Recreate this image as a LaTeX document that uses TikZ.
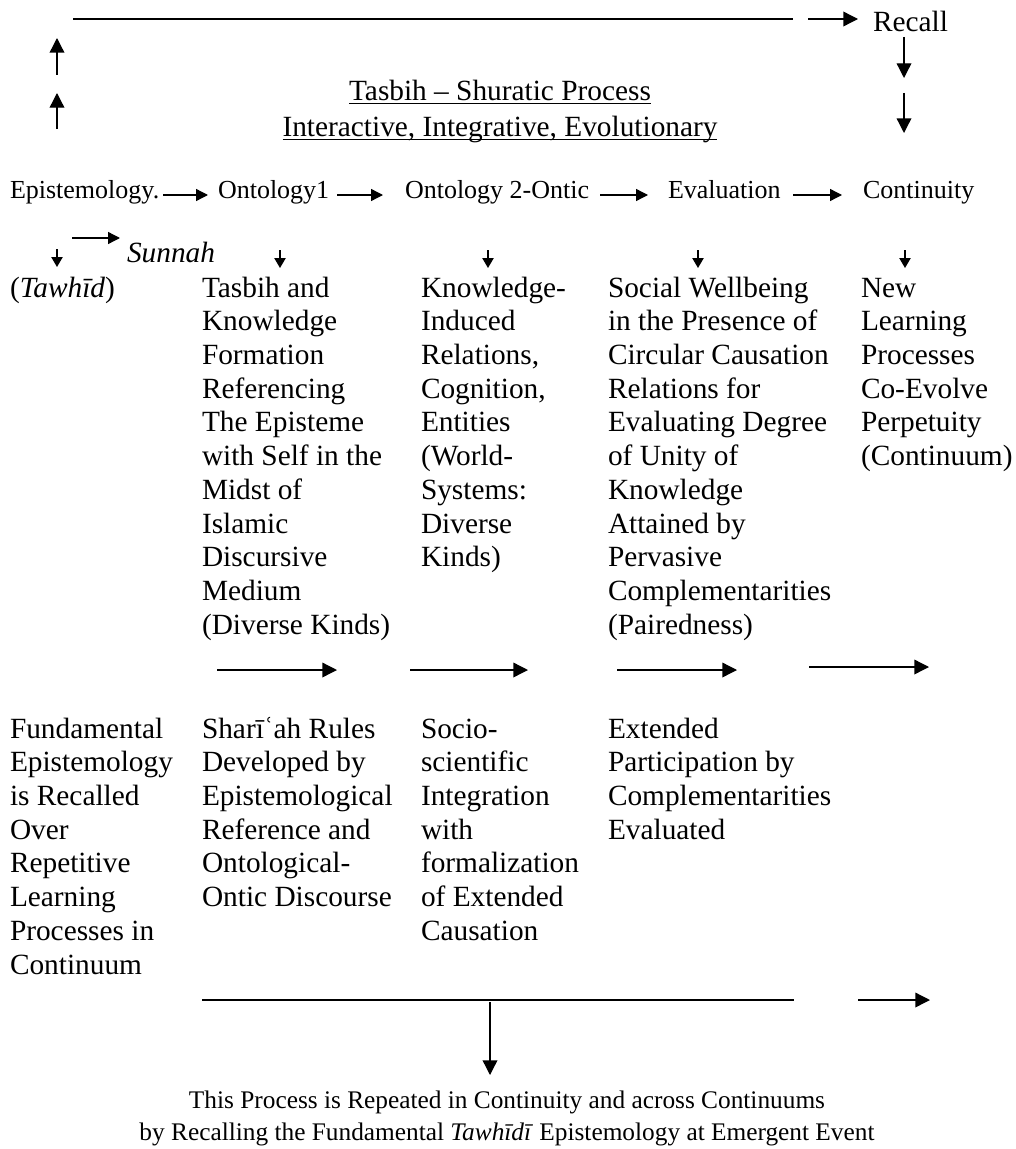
\documentclass[tikz,border=0pt]{standalone}
\usepackage{fontspec}
\setmainfont{Liberation Serif}
\usetikzlibrary{arrows.meta}
% top-aligned stack of left-aligned lines: the node's base is the first line
\newcommand{\colstack}[1]{\begin{tabular}[t]{@{}l@{}}#1\end{tabular}}

\begin{document}
\begin{tikzpicture}[x=0.75pt,y=-0.75pt,
  txt/.style={inner sep=0pt, outer sep=0pt, anchor=base west, font=\fontsize{22}{25.3}\selectfont},
  lbl/.style={inner sep=0pt, outer sep=0pt, anchor=base west, font=\fontsize{19.5}{22.5}\selectfont},
  foot/.style={inner sep=0pt, outer sep=0pt, anchor=base, font=\fontsize{19}{22}\selectfont},
  link/.style={line width=1pt},
  ulink/.style={line width=0.8pt},
  bigarrow/.style={link, -{Triangle[length=11pt,width=11pt]}},
  midarrow/.style={link, -{Triangle[length=9pt,width=9pt]}},
  smallarrow/.style={link, -{Triangle[length=7.5pt,width=8.5pt]}},
]
\path[use as bounding box] (0,0) rectangle (1015,1149);

% ---- feedback loop at the top ----
\node[txt] (recall) at (873,32) {Recall};
\coordinate (loopL) at (73,19);
\coordinate (loopR) at (793,19);
\coordinate (recA) at (808,19);
\coordinate (recB) at (858,19);
\draw[link] (loopL) -- (loopR);
\draw[bigarrow] (recA) -- (recB);

\coordinate (upA1) at (57,75);  \coordinate (upA2) at (57,38);
\coordinate (upB1) at (57,129); \coordinate (upB2) at (57,93);
\draw[bigarrow] (upA1) -- (upA2);
\draw[bigarrow] (upB1) -- (upB2);

\coordinate (dnA1) at (904,37); \coordinate (dnA2) at (904,78);
\coordinate (dnB1) at (904,93); \coordinate (dnB2) at (904,133);
\draw[bigarrow] (dnA1) -- (dnA2);
\draw[bigarrow] (dnB1) -- (dnB2);

% ---- title ----
\node[txt, anchor=base] (title1) at (500,100) {Tasbih – Shuratic Process};
\node[txt, anchor=base] (title2) at (500,136) {Interactive, Integrative, Evolutionary};
\draw[ulink] ([yshift=-2.6pt]title1.base west) -- ([yshift=-2.6pt]title1.base east);
\draw[ulink] ([yshift=-2.6pt]title2.base west) -- ([yshift=-2.6pt]title2.base east);

% ---- stage headings ----
\node[lbl] (epi)  at (10,198)  {Epistemology.};
\node[lbl] (ont1) at (218,198) {Ontology1};
\node[lbl] (ont2) at (405,198) {Ontology 2-Ontic};
\node[lbl] (eval) at (668,198) {Evaluation};
\node[lbl] (cont) at (863,198) {Continuity};

\coordinate (h1a) at (163,195); \coordinate (h1b) at (208,195);
\coordinate (h2a) at (337,195); \coordinate (h2b) at (383,195);
\coordinate (h3a) at (600,195); \coordinate (h3b) at (648,195);
\coordinate (h4a) at (793,195); \coordinate (h4b) at (842,195);
\draw[midarrow] (h1a) -- (h1b);
\draw[midarrow] (h2a) -- (h2b);
\draw[midarrow] (h3a) -- (h3b);
\draw[midarrow] (h4a) -- (h4b);

% ---- descent to the stage contents ----
\node[txt, font=\fontsize{22}{25.3}\selectfont\itshape] (sunnah) at (127,262) {Sunnah};
\coordinate (sA) at (72,238); \coordinate (sB) at (120,238);
\draw[midarrow] (sA) -- (sB);

\coordinate (d0a) at (57,249);  \coordinate (d0b) at (57,267);
\coordinate (d1a) at (280,250); \coordinate (d1b) at (280,268);
\coordinate (d2a) at (488,250); \coordinate (d2b) at (488,268);
\coordinate (d3a) at (698,250); \coordinate (d3b) at (698,268);
\coordinate (d4a) at (905,250); \coordinate (d4b) at (905,268);
\foreach \p in {0,...,4} {\draw[smallarrow] (d\p a) -- (d\p b);}

% ---- stage contents ----
\node[txt] (tawhid) at (10,297) {(\textit{Tawhīd})};
\node[txt] (c1) at (202,297) {\colstack{Tasbih and\\Knowledge\\Formation\\Referencing\\The Episteme\\with Self in the\\Midst of\\Islamic\\Discursive\\Medium\\(Diverse Kinds)}};
\node[txt] (c2) at (421,297) {\colstack{Knowledge-\\Induced\\Relations,\\Cognition,\\Entities\\(World-\\Systems:\\Diverse\\Kinds)}};
\node[txt] (c3) at (608,297) {\colstack{Social Wellbeing\\in the Presence of\\Circular Causation\\Relations for\\Evaluating Degree\\of Unity of\\Knowledge\\Attained by\\Pervasive\\Complementarities\\(Pairedness)}};
\node[txt] (c4) at (861,297) {\colstack{New\\Learning\\Processes\\Co-Evolve\\Perpetuity\\(Continuum)}};

% ---- transition arrows ----
\coordinate (m1a) at (217,670); \coordinate (m1b) at (337,670);
\coordinate (m2a) at (410,670); \coordinate (m2b) at (528,670);
\coordinate (m3a) at (617,670); \coordinate (m3b) at (737,670);
\coordinate (m4a) at (809,667); \coordinate (m4b) at (929,667);
\draw[bigarrow] (m1a) -- (m1b);
\draw[bigarrow] (m2a) -- (m2b);
\draw[bigarrow] (m3a) -- (m3b);
\draw[bigarrow] (m4a) -- (m4b);

% ---- outcomes ----
\node[txt] (b0) at (10,738) {\colstack{Fundamental\\Epistemology\\is Recalled\\Over\\Repetitive\\Learning\\Processes in\\Continuum}};
\node[txt] (b1) at (202,738) {\colstack{Sharīʿah Rules\\Developed by\\Epistemological\\Reference and\\Ontological-\\Ontic Discourse}};
\node[txt] (b2) at (421,738) {\colstack{Socio-\\scientific\\Integration\\with\\formalization\\of Extended\\Causation}};
\node[txt] (b3) at (608,738) {\colstack{Extended\\Participation by\\Complementarities\\Evaluated}};

% ---- repetition ----
\coordinate (bl) at (202,1000); \coordinate (br) at (794,1000);
\draw[link] (bl) -- (br);
\coordinate (rA) at (858,1000); \coordinate (rB) at (930,1000);
\draw[bigarrow] (rA) -- (rB);

\node[foot] (rep1) at (507,1108) {This Process is Repeated in Continuity and across Continuums};
\node[foot] (rep2) at (507,1140) {by Recalling the Fundamental \textit{Tawhīdī} Epistemology at Emergent Event};
\coordinate (dnTop) at (490,1002);
\coordinate (dnTip) at (490,1075);
\draw[bigarrow] (dnTop) -- (dnTip);
\end{tikzpicture}
\end{document}
